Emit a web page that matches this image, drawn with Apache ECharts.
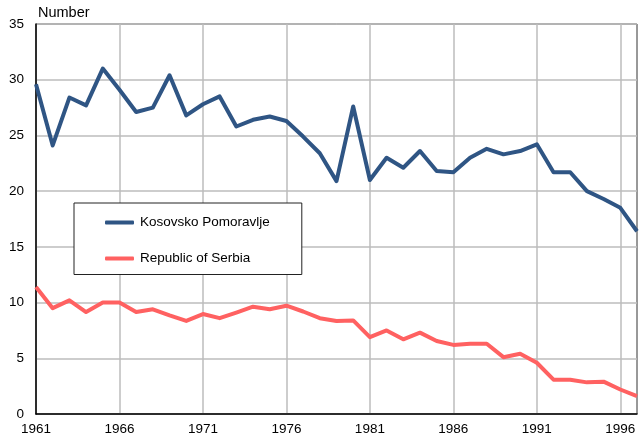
<!DOCTYPE html>
<html>
<head>
<meta charset="utf-8">
<script src="https://cdn.jsdelivr.net/npm/echarts@6/dist/echarts.min.js"></script>
<style>
  html, body { margin: 0; padding: 0; background: #fff; }
  #chart { width: 643px; height: 434px; }
</style>
</head>
<body>
<div id="chart"></div>
<script>
// years 1961..1997
var years = [];
for (var y = 1961; y <= 1997; y++) years.push(String(y));

var kosovsko = [29.6, 24.1, 28.4, 27.7, 31.0, 29.1, 27.1, 27.5, 30.4, 26.8,
                27.8, 28.5, 25.8, 26.4, 26.7, 26.3, 24.9, 23.4, 20.9, 27.6,
                21.0, 23.0, 22.1, 23.6, 21.8, 21.7, 23.0, 23.8, 23.3, 23.6,
                24.2, 21.7, 21.7, 20.0, 19.3, 18.5, 16.4];

var serbia = [11.4, 9.5, 10.2, 9.15, 10.0, 10.0, 9.15, 9.4, 8.85, 8.35,
              8.97, 8.6, 9.1, 9.63, 9.4, 9.72, 9.2, 8.6, 8.35, 8.4,
              6.9, 7.5, 6.7, 7.3, 6.55, 6.2, 6.3, 6.3, 5.1, 5.4,
              4.6, 3.08, 3.08, 2.84, 2.9, 2.2, 1.6];

var chart = echarts.init(document.getElementById('chart'));

var font = 'Liberation Sans, Arial, sans-serif';

var option = {
    animation: false,
    textStyle: { fontFamily: font },
    title: {
        text: 'Number',
        left: 33,
        top: 0,
        textStyle: { fontSize: 14.5, fontWeight: 'normal', color: '#000', fontFamily: font }
    },
    grid: {
        left: 36,
        right: 6,
        top: 24,
        bottom: 20,
        outerBoundsMode: 'none',
        containLabel: false,
        show: true,
        borderColor: '#333',
        borderWidth: 1
    },
    legend: {
        orient: 'vertical',
        left: 74,
        top: 203,
        backgroundColor: '#fff',
        borderColor: '#222',
        borderWidth: 1,
        padding: [12.5, 32, 9, 31],
        itemGap: 22,
        itemWidth: 29,
        itemHeight: 4,
        icon: 'roundRect',
        textStyle: { fontSize: 13.5, color: '#000', fontFamily: font, padding: [0, 0, 0, 1] },
        data: ['Kosovsko Pomoravlje', 'Republic of Serbia']
    },
    xAxis: {
        type: 'category',
        data: years,
        boundaryGap: false,
        axisLine: { lineStyle: { color: '#000', width: 1.5 } },
        axisTick: { show: false },
        axisLabel: { interval: 4, color: '#000', fontSize: 13.5, margin: 8 },
        splitLine: { show: true, interval: 4, lineStyle: { color: '#bdbdbd', width: 1.5 } }
    },
    yAxis: {
        type: 'value',
        min: 0,
        max: 35,
        interval: 5,
        axisLine: { show: true, lineStyle: { color: '#000', width: 1.5 } },
        axisTick: { show: false },
        axisLabel: { color: '#000', fontSize: 13.5, margin: 12 },
        splitLine: { show: true, lineStyle: { color: '#bdbdbd', width: 1.5 } }
    },
    series: [
        {
            name: 'Kosovsko Pomoravlje',
            type: 'line',
            data: kosovsko,
            symbol: 'none',
            itemStyle: { color: '#2f5584' },
            lineStyle: { color: '#2f5584', width: 4, join: 'round' }
        },
        {
            name: 'Republic of Serbia',
            type: 'line',
            data: serbia,
            symbol: 'none',
            itemStyle: { color: '#ff6161' },
            lineStyle: { color: '#ff6161', width: 4, join: 'round' }
        }
    ]
};

chart.setOption(option);
</script>
</body>
</html>
